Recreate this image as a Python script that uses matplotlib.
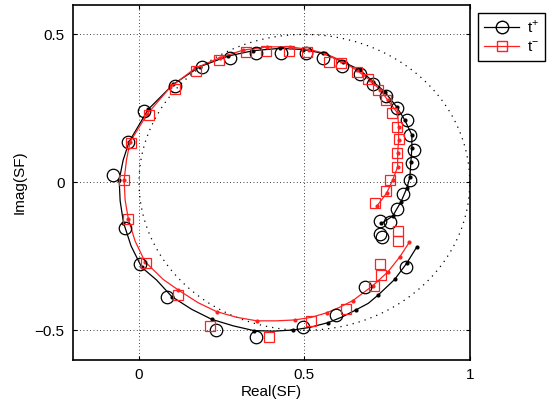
import numpy as np
import matplotlib.pyplot as plt
from matplotlib.lines import Line2D

plt.rcParams['font.family'] = ['Liberation Sans', 'DejaVu Sans']
plt.rcParams['mathtext.fontset'] = 'custom'
plt.rcParams['mathtext.rm'] = 'Liberation Sans'

# model curve t+ (black line); dot = 1 where the curve carries a dot marker
tp_re = [0.839, 0.809, 0.773, 0.723, 0.693, 0.656, 0.612, 0.572, 0.517, 0.466, 0.406, 0.347,
         0.285, 0.220, 0.159, 0.099, 0.053, 0.008, -0.024, -0.047, -0.057, -0.060, -0.048, -0.030,
         0.028, 0.104, 0.184, 0.270, 0.345, 0.426, 0.496, 0.557, 0.617, 0.668,
         0.708, 0.743, 0.779, 0.804, 0.825, 0.825, 0.822, 0.819, 0.810, 0.792, 0.767, 0.733]
tp_im = [-0.220, -0.274, -0.328, -0.381, -0.409, -0.431, -0.456, -0.474, -0.490, -0.499, -0.503, -0.501,
         -0.485, -0.463, -0.429, -0.386, -0.330, -0.287, -0.215, -0.136, -0.063, 0.008, 0.075, 0.137,
         0.247, 0.332, 0.391, 0.427, 0.445, 0.453, 0.449, 0.436, 0.407, 0.380,
         0.340, 0.306, 0.255, 0.210, 0.160, 0.116, 0.069, 0.018, -0.019, -0.066, -0.114, -0.139]
tp_dot = [1, 1, 1, 1, 0, 1, 0, 1, 0, 1, 0, 1,
          0, 1, 0, 1, 0, 1, 0, 1, 0, 1, 0, 1,
          1, 1, 1, 1, 1, 1, 1, 1, 1, 1,
          1, 1, 1, 1, 1, 1, 1, 1, 1, 1, 1, 1]

# model curve t- (red line)
tm_re = [0.817, 0.789, 0.753, 0.706, 0.646, 0.607, 0.567, 0.522, 0.471, 0.416, 0.356, 0.295,
         0.235, 0.179, 0.119, 0.073, 0.018, -0.012, -0.032, -0.042, -0.045, -0.038, -0.027,
         0.025, 0.094, 0.169, 0.245, 0.315, 0.388, 0.456, 0.515, 0.562, 0.612,
         0.658, 0.698, 0.730, 0.752, 0.782, 0.785, 0.785, 0.782, 0.782, 0.767, 0.749, 0.720]
tm_im = [-0.203, -0.251, -0.302, -0.350, -0.400, -0.422, -0.441, -0.456, -0.465, -0.468, -0.468, -0.456,
         -0.437, -0.407, -0.364, -0.328, -0.268, -0.198, -0.125, -0.060, 0.008, 0.075, 0.137,
         0.231, 0.321, 0.385, 0.422, 0.447, 0.458, 0.458, 0.449, 0.436, 0.411,
         0.379, 0.346, 0.312, 0.278, 0.234, 0.187, 0.143, 0.099, 0.052, 0.008, -0.036, -0.079]
tm_dot = [1, 1, 1, 1, 1, 0, 1, 0, 1, 0, 1, 0,
          1, 0, 1, 0, 1, 0, 1, 0, 1, 0, 1,
          1, 1, 1, 1, 1, 1, 1, 1, 1, 1,
          1, 1, 1, 1, 1, 1, 1, 1, 1, 1, 1, 1]

# measured t+ (circles)
mp_re = [-0.078, -0.032, 0.016, 0.109, 0.191, 0.275, 0.353, 0.429, 0.505, 0.557, 0.615, 0.668,
         0.708, 0.746, 0.780, 0.809, 0.819, 0.831, 0.824, 0.819, 0.798, 0.780, 0.758, 0.730,
         0.728, 0.734, 0.807, 0.683, 0.595, 0.495, 0.353, 0.233, 0.084, 0.003, -0.042]
mp_im = [0.025, 0.137, 0.241, 0.325, 0.391, 0.419, 0.438, 0.438, 0.436, 0.422, 0.393, 0.366,
         0.334, 0.292, 0.253, 0.210, 0.160, 0.109, 0.064, 0.008, -0.040, -0.091, -0.135, -0.131,
         -0.175, -0.185, -0.287, -0.353, -0.448, -0.490, -0.522, -0.499, -0.386, -0.277, -0.155]

# measured t- (squares)
mm_re = [-0.045, -0.025, 0.031, 0.109, 0.172, 0.241, 0.323, 0.384, 0.454, 0.508, 0.575, 0.612,
         0.658, 0.693, 0.723, 0.746, 0.766, 0.779, 0.786, 0.780, 0.780, 0.758, 0.748, 0.713,
         0.783, 0.783, 0.728, 0.733, 0.710, 0.625, 0.519, 0.394, 0.215, 0.117, 0.021, -0.032]
mm_im = [0.008, 0.132, 0.227, 0.314, 0.377, 0.413, 0.441, 0.445, 0.445, 0.441, 0.407, 0.404,
         0.374, 0.348, 0.312, 0.278, 0.233, 0.186, 0.145, 0.098, 0.053, 0.008, -0.029, -0.071,
         -0.164, -0.198, -0.276, -0.313, -0.350, -0.429, -0.469, -0.524, -0.485, -0.381, -0.272, -0.125]

red = '#ff2020'

fig = plt.figure(figsize=(5.52, 4.03), dpi=100)
ax = fig.add_axes([0.132, 0.107, 0.719, 0.881])

# reference circle centred at 0.5
th = np.linspace(0, 2 * np.pi, 400)
ax.plot(0.5 + 0.5 * np.cos(th), 0.5 * np.sin(th), color='k', lw=0.9,
        linestyle=(0, (1, 4)))

ax.plot(tp_re, tp_im, '-', color='k', lw=0.9, marker='.', ms=4,
        markevery=[bool(d) for d in tp_dot])
ax.plot(tm_re, tm_im, '-', color=red, lw=0.9, marker='.', ms=4,
        markevery=[bool(d) for d in tm_dot])
ax.plot(mp_re, mp_im, 'o', mfc='none', mec='k', mew=0.9, ms=9, ls='none')
ax.plot(mm_re, mm_im, 's', mfc='none', mec=red, mew=0.9, ms=7.5, ls='none')

ax.set_xlim(-0.2, 1)
ax.set_ylim(-0.6, 0.6)
ax.set_xticks([0, 0.5, 1])
ax.set_yticks([-0.5, 0, 0.5])
ax.set_xticklabels(['0', '0.5', '1'])
ax.set_yticklabels(['\u22120.5', '0', '0.5'])
ax.grid(True, color='k', linestyle=(0, (1, 3)), lw=0.6)
ax.tick_params(direction='in', length=3, top=True, right=True, labelsize=11, pad=6)
for s in ax.spines.values():
    s.set_linewidth(1.2)
ax.set_xlabel('Real(SF)', fontsize=11, labelpad=2)
ax.set_ylabel('Imag(SF)', fontsize=11, labelpad=6)

handles = [Line2D([], [], color='k', lw=0.9, marker='o', mfc='none', ms=9),
           Line2D([], [], color=red, lw=0.9, marker='s', mfc='none', ms=7.5)]
leg = fig.legend(handles, [r'$\mathrm{t}^{+}$', r'$\mathrm{t}^{-}$'],
                 loc='upper left', bbox_to_anchor=(0.866, 0.968),
                 frameon=True, fancybox=False, edgecolor='k', framealpha=1,
                 fontsize=11, handlelength=2.3, borderpad=0.4, labelspacing=0.3,
                 handletextpad=0.5, borderaxespad=0)
leg.get_frame().set_linewidth(1.0)

fig.savefig('out.png', dpi=100)
